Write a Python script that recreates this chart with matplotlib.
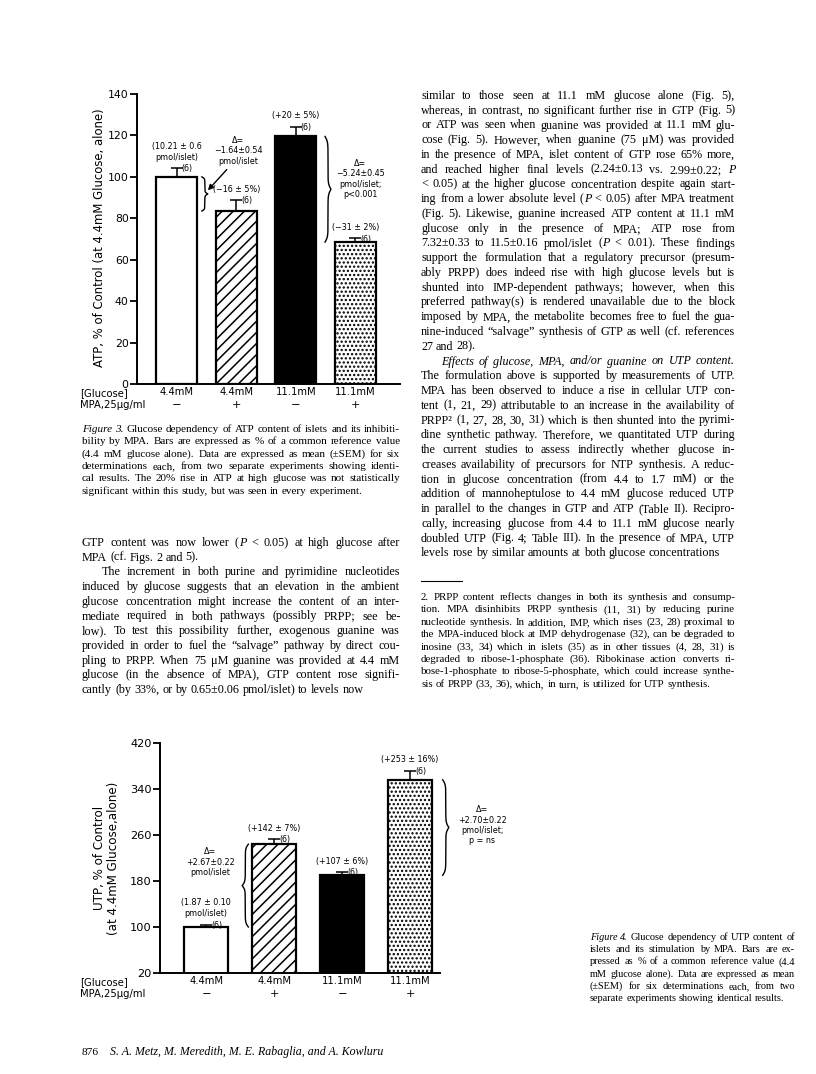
import numpy as np
import matplotlib
matplotlib.use('Agg')
import matplotlib.pyplot as plt

W, H = 816, 1074
SERIF = 'Liberation Serif'
plt.rcParams['font.family'] = 'DejaVu Sans'
plt.rcParams['hatch.linewidth'] = 1.1

# ---- Figure 3: ATP content
atp_glucose = ['4.4mM', '4.4mM', '11.1mM', '11.1mM']
atp_mpa = ['−', '+', '−', '+']
atp_mean = [100, 83.5, 119.5, 68.5]
atp_sem = [4.2, 5.4, 4.8, 1.8]
atp_n = ['(6)', '(6)', '(6)', '(6)']
atp_pct = ['(10.21 ± 0.6\npmol/islet)', '(−16 ± 5%)', '(+20 ± 5%)', '(−31 ± 2%)']
atp_yticks = [0, 20, 40, 60, 80, 100, 120, 140]

# ---- Figure 4: UTP content
utp_glucose = ['4.4mM', '4.4mM', '11.1mM', '11.1mM']
utp_mpa = ['−', '+', '−', '+']
utp_mean = [100, 244, 190, 356]
utp_sem = [4, 9, 6, 16]
utp_n = ['(6)', '(6)', '(6)', '(6)']
utp_pct = ['(1.87 ± 0.10\npmol/islet)', '(+142 ± 7%)', '(+107 ± 6%)', '(+253 ± 16%)']
utp_yticks = [20, 100, 180, 260, 340, 420]

bar_fill = ['white', 'white', 'black', 'white']
bar_hatch = [None, '///', None, '....']

# ---- page text
fig3_caption = [
    "_Figure _3. Glucose dependency of ATP content of islets and its inhibiti-",
    "bility by MPA. Bars are expressed as % of a common reference value",
    "(4.4 mM glucose alone). Data are expressed as mean (±SEM) for six",
    "determinations each, from two separate experiments showing identi-",
    "cal results. The 20% rise in ATP at high glucose was not statistically",
    "significant within this study, but was seen in every experiment.",
]
left_body = [
    "GTP content was now lower (|_P < 0.05) at high glucose after",
    "MPA (cf. Figs. 2 and 5).",
    "The increment in both purine and pyrimidine nucleotides",
    "induced by glucose suggests that an elevation in the ambient",
    "glucose concentration might increase the content of an inter-",
    "mediate required in both pathways (possibly PRPP; see be-",
    "low). To test this possibility further, exogenous guanine was",
    "provided in order to fuel the “salvage” pathway by direct cou-",
    "pling to PRPP. When 75 μM guanine was provided at 4.4 mM",
    "glucose (in the absence of MPA), GTP content rose signifi-",
    "cantly (by 33%, or by 0.65±0.06 pmol/islet) to levels now",
]
right_body = [
    "similar to those seen at 11.1 mM glucose alone (Fig. 5),",
    "whereas, in contrast, no significant further rise in GTP (Fig. 5)",
    "or ATP was seen when guanine was provided at 11.1 mM glu-",
    "cose (Fig. 5). However, when guanine (75 μM) was provided",
    "in the presence of MPA, islet content of GTP rose 65% more,",
    "and reached higher final levels (2.24±0.13 vs. 2.99±0.22; _P",
    "< 0.05) at the higher glucose concentration despite again start-",
    "ing from a lower absolute level (|_P < 0.05) after MPA treatment",
    "(Fig. 5). Likewise, guanine increased ATP content at 11.1 mM",
    "glucose only in the presence of MPA; ATP rose from",
    "7.32±0.33 to 11.5±0.16 pmol/islet (|_P < 0.01). These findings",
    "support the formulation that a regulatory precursor (presum-",
    "ably PRPP) does indeed rise with high glucose levels but is",
    "shunted into IMP-dependent pathways; however, when this",
    "preferred pathway(s) is rendered unavailable due to the block",
    "imposed by MPA, the metabolite becomes free to fuel the gua-",
    "nine-induced “salvage” synthesis of GTP as well (cf. references",
    "27 and 28).",
    "_Effects _of _glucose, _MPA, _and/or _guanine _on _UTP _content.",
    "The formulation above is supported by measurements of UTP.",
    "MPA has been observed to induce a rise in cellular UTP con-",
    "tent (1, 21, 29) attributable to an increase in the availability of",
    "PRPP² (1, 27, 28, 30, 31) which is then shunted into the pyrimi-",
    "dine synthetic pathway. Therefore, we quantitated UTP during",
    "the current studies to assess indirectly whether glucose in-",
    "creases availability of precursors for NTP synthesis. A reduc-",
    "tion in glucose concentration (from 4.4 to 1.7 mM) or the",
    "addition of mannoheptulose to 4.4 mM glucose reduced UTP",
    "in parallel to the changes in GTP and ATP (Table II). Recipro-",
    "cally, increasing glucose from 4.4 to 11.1 mM glucose nearly",
    "doubled UTP (Fig. 4; Table III). In the presence of MPA, UTP",
    "levels rose by similar amounts at both glucose concentrations",
]
footnote = [
    "2. PRPP content reflects changes in both its synthesis and consump-",
    "tion. MPA disinhibits PRPP synthesis (11, 31) by reducing purine",
    "nucleotide synthesis. In addition, IMP, which rises (23, 28) proximal to",
    "the MPA-induced block at IMP dehydrogenase (32), can be degraded to",
    "inosine (33, 34) which in islets (35) as in other tissues (4, 28, 31) is",
    "degraded to ribose-1-phosphate (36). Ribokinase action converts ri-",
    "bose-1-phosphate to ribose-5-phosphate, which could increase synthe-",
    "sis of PRPP (33, 36), which, in turn, is utilized for UTP synthesis.",
]
fig4_caption = [
    "_Figure _4. Glucose dependency of UTP content of",
    "islets and its stimulation by MPA. Bars are ex-",
    "pressed as % of a common reference value (4.4",
    "mM glucose alone). Data are expressed as mean",
    "(±SEM) for six determinations each, from two",
    "separate experiments showing identical results.",
]

fig = plt.figure(figsize=(W / 100, H / 100), dpi=100)
renderer = fig.canvas.get_renderer()


def fx(x):
    return x / W


def fy(y):
    return 1 - y / H


def text_line(x0, y, line, width, size, justify=True):
    words = []
    for tok in line.split(' '):
        segs = []
        for part in tok.split('|'):
            style = 'normal'
            if part.startswith('_'):
                style, part = 'italic', part[1:]
            t = fig.text(0, 0, part, fontsize=size, family=SERIF, style=style,
                         va='baseline', ha='left')
            segs.append((t, t.get_window_extent(renderer).width))
        words.append(segs)
    widths = [sum(w for _, w in s) for s in words]
    a = fig.text(0, 0, 'a a', fontsize=size, family=SERIF)
    b = fig.text(0, 0, 'aa', fontsize=size, family=SERIF)
    space = a.get_window_extent(renderer).width - b.get_window_extent(renderer).width
    a.remove()
    b.remove()
    gap = space
    if justify and len(words) > 1:
        gap = (width - sum(widths)) / (len(words) - 1)
    x = x0
    for segs, ww in zip(words, widths):
        for t, w in segs:
            t.set_position((fx(x), fy(y)))
            x += w
        x += gap


def text_block(x0, y0, lines, width, size, lead, last=(), indent=()):
    for i, line in enumerate(lines):
        ind = 20 if i in indent else 0
        text_line(x0 + ind, y0 + i * lead, line, width - ind, size,
                  justify=(i not in last and i != len(lines) - 1))


def brace(ax, x, y0, y1, width, tip):
    s = np.linspace(0, 0.5, 120)
    half = 1 / (1 + np.exp(-40 * s)) + 1 / (1 + np.exp(-40 * (s - 0.5))) - 0.5
    off = np.concatenate([half, half[::-1]])
    ss = np.concatenate([s, s + 0.5])
    ax.plot(x + tip * width * off, y0 + ss * (y1 - y0), color='k', lw=1.0,
            clip_on=False)


def bar_chart(rect, means, sems, ns, pcts, yticks, ylim, xlim, bw, tick_size):
    ax = fig.add_axes(rect)
    x = np.arange(len(means))
    for i in range(len(means)):
        ax.bar(x[i], means[i], width=bw, color=bar_fill[i], edgecolor='k',
               hatch=bar_hatch[i], linewidth=1.6, zorder=2)
    ax.errorbar(x, means, yerr=[np.zeros(len(means)), sems], fmt='none',
                ecolor='k', elinewidth=1.1, capsize=4, capthick=1.1, zorder=3)
    for i in range(len(means)):
        ax.annotate(ns[i], (x[i], means[i] + sems[i]), xytext=(3.5, -0.5),
                    textcoords='offset points', ha='left', va='center',
                    fontsize=5.8)
        ax.annotate(pcts[i], (x[i], means[i] + sems[i]), xytext=(0, 4.5),
                    textcoords='offset points', ha='center', va='bottom',
                    fontsize=5.8, linespacing=1.3)
    ax.set_xlim(*xlim)
    ax.set_ylim(*ylim)
    ax.set_yticks(yticks)
    ax.set_xticks([])
    ax.tick_params(axis='y', direction='out', length=5, width=1.3,
                   labelsize=tick_size, pad=1)
    for side in ['top', 'right']:
        ax.spines[side].set_visible(False)
    for side in ['left', 'bottom']:
        ax.spines[side].set_linewidth(1.4)
    return ax


def category_rows(ax, groups, signs, y_g, y_m, size):
    for i, (g, s) in enumerate(zip(groups, signs)):
        ax.annotate(g, (i, 0), xycoords=('data', 'axes fraction'),
                    xytext=(0, y_g), textcoords='offset points',
                    ha='center', va='center', fontsize=size)
        ax.annotate(s, (i, 0), xycoords=('data', 'axes fraction'),
                    xytext=(0, y_m), textcoords='offset points',
                    ha='center', va='center', fontsize=size + 1)


# ---------------- Figure 3 (top) ----------------
ax1 = bar_chart([fx(137), fy(384), (400 - 137) / W, (384 - 94) / H],
                atp_mean, atp_sem, atp_n, atp_pct, atp_yticks,
                (0, 140), (-0.67, 3.75), 0.69, 7.8)
category_rows(ax1, atp_glucose, atp_mpa, -6, -15, 7.2)
fig.text(fx(80), fy(393), '[Glucose]', fontsize=7.2, va='center')
fig.text(fx(80), fy(405), 'MPA,25μg/ml', fontsize=7.2, va='center')
fig.text(fx(100), fy(238), 'ATP, % of Control (at 4.4mM Glucose, alone)',
         rotation=90, fontsize=8.4, ha='center', va='center')

brace(ax1, 0.42, atp_mean[0], atp_mean[1], 0.1, 1)
brace(ax1, 2.49, atp_mean[2], atp_mean[3], 0.1, 1)
ax1.text(1.03, 112.5, 'Δ=\n−1.64±0.54\npmol/islet', fontsize=5.8,
         ha='center', va='center', linespacing=1.2)
ax1.annotate('', xy=(0.49, 92.5), xytext=(0.87, 104.5),
             arrowprops=dict(arrowstyle='-|>', color='k', lw=1.0,
                             mutation_scale=8))
ax1.text(3.08, 99, 'Δ=\n−5.24±0.45\npmol/islet;\np<0.001', fontsize=5.8,
         ha='center', va='center', linespacing=1.2)

# ---------------- Figure 4 (bottom) ----------------
ax2 = bar_chart([fx(160), fy(973), (440 - 160) / W, (973 - 743) / H],
                utp_mean, utp_sem, utp_n, utp_pct, utp_yticks,
                (20, 420), (-0.68, 3.44), 0.65, 8.2)
category_rows(ax2, utp_glucose, utp_mpa, -6, -15, 7.2)
fig.text(fx(80), fy(982), '[Glucose]', fontsize=7.2, va='center')
fig.text(fx(80), fy(994), 'MPA,25μg/ml', fontsize=7.2, va='center')
fig.text(fx(107), fy(858), 'UTP, % of Control\n(at 4.4mM Glucose,alone)',
         rotation=90, fontsize=8.6, ha='center', va='center',
         multialignment='center', linespacing=1.1)

brace(ax2, 0.62, utp_mean[0], utp_mean[1], 0.09, -1)
brace(ax2, 3.48, utp_mean[2], utp_mean[3], 0.09, 1)
ax2.text(0.06, 213, 'Δ=\n+2.67±0.22\npmol/islet', fontsize=5.8,
         ha='center', va='center', linespacing=1.2)
ax2.text(4.06, 277, 'Δ=\n+2.70±0.22\npmol/islet;\np = ns', fontsize=5.8,
         ha='center', va='center', linespacing=1.2, clip_on=False)

# ---------------- page text ----------------
text_block(82, 432, fig3_caption, 318, 8.0, 12.3)
text_block(82, 546, left_body, 318, 8.7, 14.7, last={1}, indent={2})
text_block(421, 99, right_body, 314, 8.7, 14.75, last={17}, indent={18})
fig.add_artist(plt.Line2D([fx(421), fx(462)], [fy(581), fy(581)],
                          color='k', lw=0.8))
text_block(421, 600, footnote, 314, 7.8, 12.4)
text_block(590, 940, fig4_caption, 205, 7.4, 12.2)
fig.text(fx(82), fy(1055), '876', fontsize=8.2, family=SERIF, va='baseline')
fig.text(fx(110), fy(1055), 'S. A. Metz, M. Meredith, M. E. Rabaglia, and A. Kowluru',
         fontsize=8.6, family=SERIF, style='italic', va='baseline')

fig.savefig('out.png', dpi=100)
